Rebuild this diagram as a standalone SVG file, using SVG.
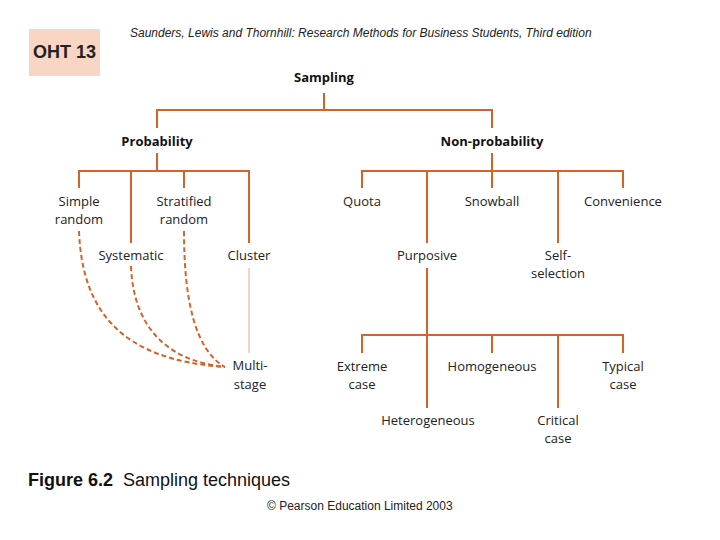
<svg xmlns="http://www.w3.org/2000/svg" width="720" height="540" viewBox="0 0 720 540">
<style>
.ln{stroke:#d2642a;stroke-width:2;fill:none}
.ds{stroke:#d2642a;stroke-width:2;fill:none;stroke-dasharray:5 3}
.lt{stroke:#f4c3aa;stroke-width:1.5;fill:none}
.lb{font-family:"Open Sans",sans-serif;font-size:13px;fill:#222;text-anchor:middle}
.bd{font-family:"Open Sans",sans-serif;font-size:13px;font-weight:bold;fill:#111;text-anchor:middle}
</style>
<rect width="720" height="540" fill="#fff"/>
<g id="oht"><rect x="29" y="29" width="71" height="47" fill="#f9d5c3"/>
<text x="64.5" y="58" font-family="Liberation Sans,Arial,sans-serif" font-size="18" font-weight="bold" text-anchor="middle" fill="#222">OHT 13</text></g>
<text id="header" x="130" y="37" font-family="Liberation Sans,Arial,sans-serif" font-size="12" font-style="italic" fill="#222">Saunders, Lewis and Thornhill: Research Methods for Business Students, Third edition</text>
<g id="connectors">
<path class="ln" d="M324,93V110M157,110H492M157,109V128M492,109V128"/>
<path class="ln" d="M157,153V171M79,171H249M79,170V188M131,170V243M184,170V188M249,170V243"/>
<path class="ln" d="M492,153V171M362,171H623M362,170V188M427,170V243M492,170V188M558,170V243M623,170V188"/>
<path class="ln" d="M427,268V335M362,335H623M362,334V353M427,334V408M492,334V353M558,334V408M623,334V353"/>
<path class="lt" d="M249,268V353"/>
<path class="ds" d="M79,231C82,310 120,360 225,367"/>
<path class="ds" d="M131,266C133,320 160,360 225,367"/>
<path class="ds" d="M184,231C184,300 195,350 225,367"/>
</g>
<g id="sampling"><text class="bd" x="324" y="82">Sampling</text></g>
<g id="probability"><text class="bd" x="157" y="146">Probability</text></g>
<g id="nonprobability"><text class="bd" x="492" y="146">Non-probability</text></g>
<g id="simple"><text class="lb" x="79" y="206">Simple</text><text class="lb" x="79" y="224">random</text></g>
<g id="systematic"><text class="lb" x="131" y="260">Systematic</text></g>
<g id="stratified"><text class="lb" x="184" y="206">Stratified</text><text class="lb" x="184" y="224">random</text></g>
<g id="cluster"><text class="lb" x="249" y="260">Cluster</text></g>
<g id="multistage"><text class="lb" x="250" y="370">Multi-</text><text class="lb" x="250" y="389">stage</text></g>
<g id="quota"><text class="lb" x="362" y="206">Quota</text></g>
<g id="snowball"><text class="lb" x="492" y="206">Snowball</text></g>
<g id="convenience"><text class="lb" x="623" y="206">Convenience</text></g>
<g id="purposive"><text class="lb" x="427" y="260">Purposive</text></g>
<g id="selfselection"><text class="lb" x="558" y="260">Self-</text><text class="lb" x="558" y="278">selection</text></g>
<g id="extreme"><text class="lb" x="362" y="371">Extreme</text><text class="lb" x="362" y="389">case</text></g>
<g id="homogeneous"><text class="lb" x="492" y="371">Homogeneous</text></g>
<g id="typical"><text class="lb" x="623" y="371">Typical</text><text class="lb" x="623" y="389">case</text></g>
<g id="heterogeneous"><text class="lb" x="428" y="425">Heterogeneous</text></g>
<g id="critical"><text class="lb" x="558" y="425">Critical</text><text class="lb" x="558" y="443">case</text></g>
<text id="caption" x="28" y="486" font-family="Liberation Sans,Arial,sans-serif" font-size="18" fill="#111"><tspan font-weight="bold">Figure 6.2</tspan><tspan x="123">Sampling techniques</tspan></text>
<text id="copyright" x="267" y="510" font-family="Liberation Sans,Arial,sans-serif" font-size="12" fill="#222">© Pearson Education Limited 2003</text>
</svg>
